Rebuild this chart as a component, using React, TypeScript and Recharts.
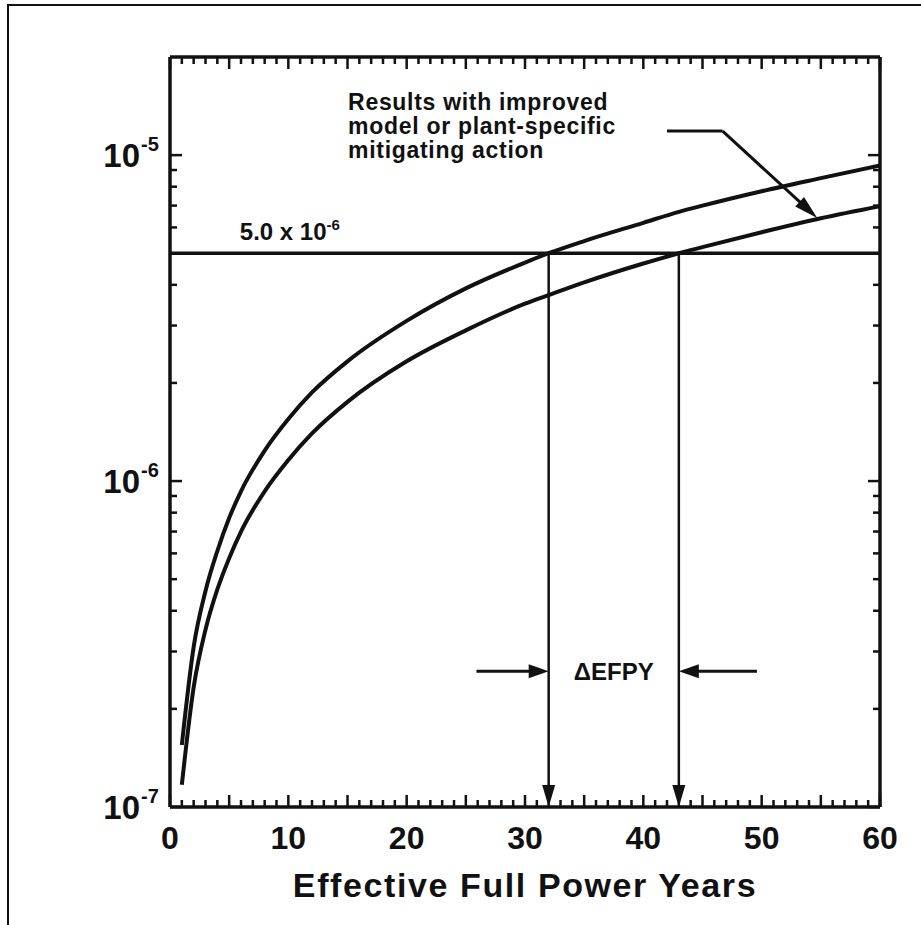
import React from 'react';
import { LineChart, Line, XAxis, YAxis, ReferenceLine, ReferenceDot } from 'recharts';

// ---- data ----
const years = [1, 2, 3, 4, 5, 6, 8, 10, 12, 15, 20, 25, 30, 32, 35, 40, 43, 45, 50, 55, 60];
const baseCase = [1.55e-7, 3.1e-7, 4.6e-7, 6.1e-7, 7.7e-7, 9.3e-7, 1.24e-6, 1.55e-6, 1.87e-6, 2.33e-6, 3.1e-6, 3.9e-6, 4.68e-6, 5.0e-6, 5.45e-6, 6.2e-6, 6.7e-6, 7.0e-6, 7.75e-6, 8.5e-6, 9.3e-6];
const improved = [1.17e-7, 2.33e-7, 3.5e-7, 4.65e-7, 5.8e-7, 7.0e-7, 9.3e-7, 1.16e-6, 1.4e-6, 1.75e-6, 2.33e-6, 2.9e-6, 3.5e-6, 3.72e-6, 4.07e-6, 4.65e-6, 5.0e-6, 5.22e-6, 5.8e-6, 6.4e-6, 6.97e-6];

const xTicks = [0, 1, 2, 3, 4, 5, 6, 7, 8, 9, 10, 11, 12, 13, 14, 15, 16, 17, 18, 19, 20, 21, 22, 23, 24, 25, 26, 27, 28, 29, 30, 31, 32, 33, 34, 35, 36, 37, 38, 39, 40, 41, 42, 43, 44, 45, 46, 47, 48, 49, 50, 51, 52, 53, 54, 55, 56, 57, 58, 59, 60];
const xLabelTicks = [0, 10, 20, 30, 40, 50, 60];
const yDecades = [1e-7, 1e-6, 1e-5];
const yTicks = [1e-7, 2e-7, 3e-7, 4e-7, 5e-7, 6e-7, 7e-7, 8e-7, 9e-7, 1e-6, 2e-6, 3e-6, 4e-6, 5e-6, 6e-6, 7e-6, 8e-6, 9e-6, 1e-5];
const yDomain = [1e-7, 2e-5];
const xDomain = [0, 60];

const limitValue = 5.0e-6;
const baseCrossing = 32;
const improvedCrossing = 43;
const deltaY = 2.61e-7;
const deltaLeftStart = 25.9;
const deltaRightStart = 49.6;
const pointerPath = [
  { x: 42.0, y: 1.185e-5 },
  { x: 46.7, y: 1.185e-5 },
  { x: 54.7, y: 6.41e-6 },
];
const noteLines = ['Results with improved', 'model or plant-specific', 'mitigating action'];

const data = years.map((x, i) => ({ x, base: baseCase[i], improved: improved[i] }));

const FONT = '"Liberation Sans", Arial, Helvetica, sans-serif';
const INK = '#111';

const LeftYTick = (props: any) => {
  const { x, y, payload } = props;
  const v = payload.value;
  const major = yDecades.includes(v);
  const exp = Math.round(Math.log10(v));
  return (
    <g>
      <line x1={x} x2={x + (major ? 12 : 7)} y1={y} y2={y} stroke={INK} strokeWidth={2.5} />
      {major && (
        <g fontFamily={FONT} fontWeight="bold" fill={INK}>
          <text x={x - 30} y={y + 12} textAnchor="end" fontSize={33}>10</text>
          <text x={x - 29} y={y - 4} textAnchor="start" fontSize={20}>{String(exp)}</text>
        </g>
      )}
    </g>
  );
};

const RightYTick = (props: any) => {
  const { x, y, payload } = props;
  const major = yDecades.includes(payload.value);
  return <line x1={x} x2={x - (major ? 12 : 7)} y1={y} y2={y} stroke={INK} strokeWidth={2.5} />;
};

const BottomXTick = (props: any) => {
  const { x, y, payload } = props;
  const v = payload.value;
  const major = v % 5 === 0;
  return (
    <g>
      <line x1={x} x2={x} y1={y} y2={y - (major ? 12 : 7)} stroke={INK} strokeWidth={2.5} />
      {xLabelTicks.includes(v) && (
        <text x={x} y={y + 42} textAnchor="middle" fontSize={32} fontWeight="bold" fontFamily={FONT} fill={INK}>
          {v}
        </text>
      )}
    </g>
  );
};

const TopXTick = (props: any) => {
  const { x, y, payload } = props;
  const major = payload.value % 5 === 0;
  return <line x1={x} x2={x} y1={y} y2={y + (major ? 12 : 7)} stroke={INK} strokeWidth={2.5} />;
};

const makeArrow = (headLen: number, halfW: number, width: number) => (props: any) => {
  const { x1, y1, x2, y2 } = props;
  const dx = x2 - x1;
  const dy = y2 - y1;
  const len = Math.sqrt(dx * dx + dy * dy) || 1;
  const ux = dx / len;
  const uy = dy / len;
  const bx = x2 - ux * headLen;
  const by = y2 - uy * headLen;
  const px = -uy * halfW;
  const py = ux * halfW;
  return (
    <g>
      <line x1={x1} y1={y1} x2={bx + ux * 2} y2={by + uy * 2} stroke={INK} strokeWidth={width} />
      <polygon points={`${x2},${y2} ${bx + px},${by + py} ${bx - px},${by - py}`} fill={INK} />
    </g>
  );
};

const VerticalArrow = makeArrow(22, 6.5, 2.5);
const DeltaArrow = makeArrow(20, 7, 3);
const PointerArrow = makeArrow(24, 6.5, 3);

const NoteText = (props: any) => {
  const { cx, cy } = props;
  return (
    <text x={cx} y={cy} fontSize={23} fontWeight="bold" fontFamily={FONT} fill={INK} letterSpacing={0.7}>
      {noteLines.map((l, i) => (
        <tspan key={i} x={cx} dy={i === 0 ? 0 : 24}>
          {l}
        </tspan>
      ))}
    </text>
  );
};

const LimitText = (props: any) => {
  const { cx, cy } = props;
  return (
    <text x={cx} y={cy} fontFamily={FONT} fontWeight="bold" fill={INK} fontSize={24}>
      <tspan>5.0 x 10</tspan>
      <tspan dy={-10} fontSize={15}>-6</tspan>
    </text>
  );
};

const DeltaText = (props: any) => {
  const { cx, cy } = props;
  return (
    <text x={cx} y={cy} textAnchor="middle" fontSize={24} fontWeight="bold" fontFamily={FONT} fill={INK}>
      ΔEFPY
    </text>
  );
};

export default function App() {
  return (
    <div style={{ position: 'fixed', left: 0, top: 0, width: 921, height: 925, background: '#fff', overflow: 'hidden' }}>
      <div style={{ position: 'absolute', left: 7, top: 4, width: 914, height: 2, background: INK }} />
      <div style={{ position: 'absolute', left: 7, top: 4, width: 2, height: 921, background: INK }} />
      <div style={{ position: 'absolute', left: 0, top: 0, width: 900, height: 925, overflow: 'hidden' }}>
        <LineChart
          width={921}
          height={925}
          data={data}
          accessibilityLayer={false}
          style={{ outline: 'none' }}
          margin={{ top: 17, right: 1, bottom: 78, left: 100 }}
        >
          <XAxis
            xAxisId="b"
            dataKey="x"
            type="number"
            domain={xDomain}
            ticks={xTicks}
            interval={0}
            height={40}
            tickSize={0}
            tickMargin={0}
            tickLine={false}
            tick={<BottomXTick />}
            axisLine={{ stroke: INK, strokeWidth: 3.5 }}
            allowDataOverflow
            label={{
              content: (p: any) => {
                const vb = p.viewBox || {};
                return (
                  <text
                    x={vb.x + vb.width / 2}
                    y={vb.y + 90}
                    textAnchor="middle"
                    fontSize={34}
                    fontWeight="bold"
                    fontFamily={FONT}
                    fill={INK}
                    letterSpacing={1.6}
                  >
                    Effective Full Power Years
                  </text>
                );
              },
            }}
          />
          <XAxis
            xAxisId="t"
            orientation="top"
            dataKey="x"
            type="number"
            domain={xDomain}
            ticks={xTicks}
            interval={0}
            height={40}
            tickSize={0}
            tickMargin={0}
            tickLine={false}
            tick={<TopXTick />}
            axisLine={{ stroke: INK, strokeWidth: 3.5 }}
            allowDataOverflow
          />
          <YAxis
            yAxisId="l"
            type="number"
            scale="log"
            domain={yDomain}
            ticks={yTicks}
            interval={0}
            width={70}
            tickSize={0}
            tickMargin={0}
            tickLine={false}
            tick={<LeftYTick />}
            axisLine={{ stroke: INK, strokeWidth: 3.5 }}
            allowDataOverflow
          />
          <YAxis
            yAxisId="r"
            orientation="right"
            type="number"
            scale="log"
            domain={yDomain}
            ticks={yTicks}
            interval={0}
            width={40}
            tickSize={0}
            tickMargin={0}
            tickLine={false}
            tick={<RightYTick />}
            axisLine={{ stroke: INK, strokeWidth: 3.5 }}
            allowDataOverflow
          />
          <ReferenceLine xAxisId="b" yAxisId="l" y={limitValue} stroke={INK} strokeWidth={3.5} />
          <Line xAxisId="b" yAxisId="l" type="monotone" dataKey="base" stroke={INK} strokeWidth={4} dot={false} isAnimationActive={false} />
          <Line xAxisId="b" yAxisId="l" type="monotone" dataKey="improved" stroke={INK} strokeWidth={4} dot={false} isAnimationActive={false} />
          <ReferenceLine
            xAxisId="b"
            yAxisId="l"
            segment={[{ x: baseCrossing, y: limitValue }, { x: baseCrossing, y: yDomain[0] }]}
            shape={VerticalArrow}
          />
          <ReferenceLine
            xAxisId="b"
            yAxisId="l"
            segment={[{ x: improvedCrossing, y: limitValue }, { x: improvedCrossing, y: yDomain[0] }]}
            shape={VerticalArrow}
          />
          <ReferenceLine
            xAxisId="b"
            yAxisId="l"
            segment={[{ x: deltaLeftStart, y: deltaY }, { x: baseCrossing, y: deltaY }]}
            shape={DeltaArrow}
          />
          <ReferenceLine
            xAxisId="b"
            yAxisId="l"
            segment={[{ x: deltaRightStart, y: deltaY }, { x: improvedCrossing, y: deltaY }]}
            shape={DeltaArrow}
          />
          <ReferenceLine
            xAxisId="b"
            yAxisId="l"
            segment={[pointerPath[0], pointerPath[1]]}
            stroke={INK}
            strokeWidth={3}
          />
          <ReferenceLine
            xAxisId="b"
            yAxisId="l"
            segment={[pointerPath[1], pointerPath[2]]}
            shape={PointerArrow}
          />
          <ReferenceDot xAxisId="b" yAxisId="l" x={15.05} y={1.374e-5} r={1} shape={NoteText} />
          <ReferenceDot xAxisId="b" yAxisId="l" x={5.9} y={5.48e-6} r={1} shape={LimitText} />
          <ReferenceDot xAxisId="b" yAxisId="l" x={(baseCrossing + improvedCrossing) / 2} y={2.45e-7} r={1} shape={DeltaText} />
        </LineChart>
      </div>
    </div>
  );
}
